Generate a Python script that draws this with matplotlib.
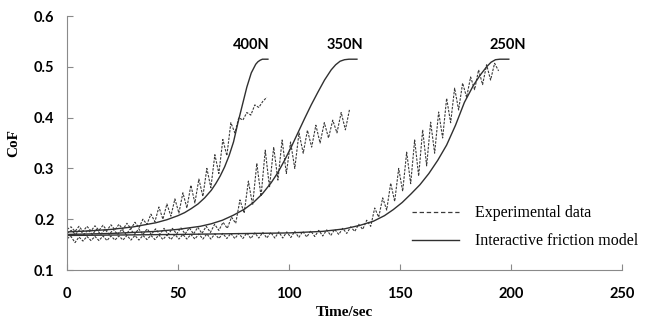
import numpy as np
import matplotlib
matplotlib.use("Agg")
import matplotlib.pyplot as plt
from matplotlib.lines import Line2D

# ---------------- model curves (interactive friction model) ----------------
t_m400 = [0, 10, 20, 30, 35, 40, 45, 50, 53, 56, 59, 62, 65, 67, 69, 71, 73, 75,
          77, 79, 81, 83, 85, 86, 87, 88, 90.5]
cof_m400 = [0.175, 0.177, 0.180, 0.185, 0.189, 0.193, 0.199, 0.207, 0.213, 0.221,
            0.230, 0.242, 0.257, 0.270, 0.285, 0.303, 0.325, 0.352, 0.390, 0.425,
            0.460, 0.488, 0.505, 0.510, 0.513, 0.515, 0.515]

t_m350 = [0, 20, 40, 50, 60, 65, 70, 75, 80, 84, 88, 92, 95, 98, 101, 104, 107,
          110, 113, 116, 119, 121, 123, 125, 127, 130.6]
cof_m350 = [0.170, 0.172, 0.176, 0.180, 0.186, 0.191, 0.198, 0.208, 0.220, 0.233,
            0.250, 0.272, 0.292, 0.316, 0.342, 0.370, 0.398, 0.425, 0.450, 0.474,
            0.494, 0.504, 0.511, 0.514, 0.515, 0.515]

t_m250 = [0, 50, 100, 115, 125, 132, 138, 143, 147, 151, 155, 159, 163, 167, 171,
          175, 179, 183, 186, 189, 191, 193, 195, 199]
cof_m250 = [0.168, 0.170, 0.173, 0.176, 0.181, 0.188, 0.196, 0.207, 0.219, 0.233,
            0.250, 0.268, 0.290, 0.316, 0.346, 0.385, 0.430, 0.463, 0.483, 0.500,
            0.509, 0.514, 0.515, 0.515]

# ---------------- experimental data (troughs / peaks read off the figure) ----------------
# 400N, sampled every 1.8 s
t_e400 = np.arange(51) * 1.8
cof_e400 = [0.180, 0.185, 0.176, 0.186, 0.176, 0.186, 0.177, 0.187, 0.178, 0.188,
            0.178, 0.189, 0.179, 0.190, 0.180, 0.192, 0.181, 0.194, 0.183, 0.200,
            0.190, 0.210, 0.195, 0.224, 0.200, 0.230, 0.206, 0.240, 0.212, 0.252,
            0.222, 0.267, 0.232, 0.279, 0.245, 0.300, 0.262, 0.327, 0.290, 0.357,
            0.325, 0.390, 0.370, 0.400, 0.395, 0.410, 0.405, 0.425, 0.420, 0.432,
            0.440]

# 350N, sampled every 1.9 s
t_e350 = np.arange(68) * 1.9
cof_e350 = [0.172, 0.178, 0.170, 0.179, 0.170, 0.179, 0.170, 0.180, 0.170, 0.180,
            0.170, 0.180, 0.170, 0.180, 0.170, 0.181, 0.170, 0.181, 0.170, 0.181,
            0.170, 0.181, 0.170, 0.182, 0.170, 0.182, 0.171, 0.183, 0.171, 0.183,
            0.171, 0.184, 0.172, 0.186, 0.174, 0.190, 0.178, 0.194, 0.182, 0.204,
            0.192, 0.238, 0.212, 0.275, 0.228, 0.310, 0.245, 0.336, 0.263, 0.342,
            0.277, 0.356, 0.290, 0.352, 0.300, 0.370, 0.330, 0.375, 0.342, 0.385,
            0.350, 0.390, 0.360, 0.395, 0.370, 0.410, 0.376, 0.417]

# 250N, sampled every 1.8 s
t_e250 = np.arange(109) * 1.8
cof_e250 = [0.162, 0.166, 0.154, 0.165, 0.157, 0.166, 0.158, 0.166, 0.158, 0.167,
            0.158, 0.167, 0.159, 0.167, 0.159, 0.168, 0.159, 0.168, 0.159, 0.168,
            0.160, 0.168, 0.160, 0.169, 0.160, 0.169, 0.160, 0.170, 0.161, 0.170,
            0.161, 0.170, 0.161, 0.171, 0.161, 0.171, 0.161, 0.171, 0.162, 0.172,
            0.162, 0.172, 0.162, 0.172, 0.162, 0.173, 0.162, 0.173, 0.163, 0.174,
            0.163, 0.174, 0.163, 0.175, 0.163, 0.175, 0.164, 0.176, 0.164, 0.176,
            0.165, 0.177, 0.166, 0.178, 0.167, 0.179, 0.168, 0.180, 0.170, 0.182,
            0.172, 0.185, 0.176, 0.190, 0.180, 0.198, 0.186, 0.222, 0.204, 0.242,
            0.218, 0.271, 0.235, 0.300, 0.255, 0.332, 0.270, 0.356, 0.285, 0.376,
            0.305, 0.391, 0.330, 0.411, 0.360, 0.438, 0.390, 0.458, 0.415, 0.468,
            0.440, 0.480, 0.455, 0.494, 0.465, 0.504, 0.474, 0.507, 0.492]

load_labels = ["400N", "350N", "250N"]
label_t = [83, 125, 198.5]
label_y = [0.543, 0.543, 0.543]

x_ticks = [0, 50, 100, 150, 200, 250]
y_ticks = [0.1, 0.2, 0.3, 0.4, 0.5, 0.6]

# ---------------- plot ----------------
fig = plt.figure(figsize=(6.48, 3.25), dpi=100)
ax = fig.add_axes([0.1034, 0.1692, 0.8565, 0.7815])

exp_kw = dict(color="#3a3a3a", lw=0.8, linestyle=(0, (2.2, 1.2)))
mod_kw = dict(color="#303030", lw=1.0)

ax.plot(t_e400, cof_e400, **exp_kw)
ax.plot(t_e350, cof_e350, **exp_kw)
ax.plot(t_e250, cof_e250, **exp_kw)
ax.plot(t_m400, cof_m400, **mod_kw)
ax.plot(t_m350, cof_m350, **mod_kw)
ax.plot(t_m250, cof_m250, **mod_kw)

for lab, tx, ty in zip(load_labels, label_t, label_y):
    ax.text(tx, ty, lab, ha="center", va="center", fontsize=10.5,
            fontweight="bold", family="Lato", color="black")

ax.set_xlim(0, 250)
ax.set_ylim(0.1, 0.6)
ax.set_xticks(x_ticks)
ax.set_yticks(y_ticks)
ax.set_xticklabels([str(v) for v in x_ticks], family="Lato", fontweight="bold", fontsize=10.5)
ax.set_yticklabels([f"{v:.1f}" for v in y_ticks], family="Lato", fontweight="bold", fontsize=10.5)
ax.tick_params(axis="both", direction="in", length=4, color="#8a8a8a", width=0.8)
ax.tick_params(axis="x", pad=12)
ax.tick_params(axis="y", pad=9)

for s in ["top", "right"]:
    ax.spines[s].set_visible(False)
for s in ["left", "bottom"]:
    ax.spines[s].set_color("#8a8a8a")
    ax.spines[s].set_linewidth(0.8)

ax.set_xlabel("Time/sec", family="Liberation Serif", fontweight="bold", fontsize=11, labelpad=4)
ax.set_ylabel("CoF", family="Liberation Serif", fontweight="bold", fontsize=11, labelpad=10)

handles = [Line2D([], [], color="#3a3a3a", lw=0.9, linestyle=(0, (3.5, 2.2))),
           Line2D([], [], **mod_kw)]
ax.legend(handles, ["Experimental data", "Interactive friction model"],
          loc="center left", bbox_to_anchor=(0.622, 0.168), frameon=False,
          prop={"family": "Liberation Serif", "size": 11.5},
          handlelength=2.9, handletextpad=1.0, labelspacing=0.75,
          borderpad=0, borderaxespad=0)

fig.savefig("out.png", dpi=100)
